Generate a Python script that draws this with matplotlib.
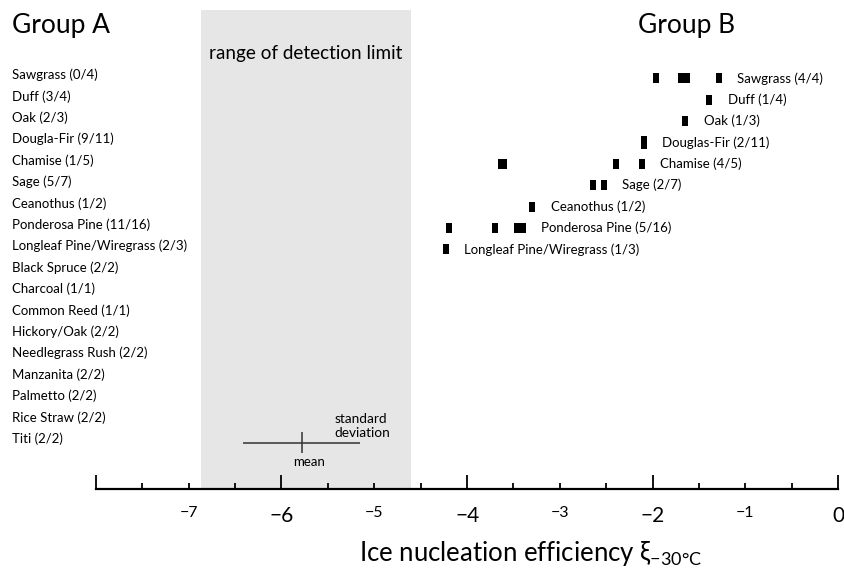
import matplotlib
matplotlib.use("Agg")
import matplotlib.pyplot as plt
import matplotlib.transforms as mtransforms

plt.rcParams["font.family"] = ["Lato", "DejaVu Sans"]

# Group A: below detection limit, text only
group_a = ["Sawgrass (0/4)", "Duff (3/4)", "Oak (2/3)", "Dougla-Fir (9/11)",
           "Chamise (1/5)", "Sage (5/7)", "Ceanothus (1/2)",
           "Ponderosa Pine (11/16)", "Longleaf Pine/Wiregrass (2/3)",
           "Black Spruce (2/2)", "Charcoal (1/1)", "Common Reed (1/1)",
           "Hickory/Oak (2/2)", "Needlegrass Rush (2/2)", "Manzanita (2/2)",
           "Palmetto (2/2)", "Rice Straw (2/2)", "Titi (2/2)"]

# Group B: measured values of xi_-30C
group_b = ["Sawgrass (4/4)", "Duff (1/4)", "Oak (1/3)", "Douglas-Fir (2/11)",
           "Chamise (4/5)", "Sage (2/7)", "Ceanothus (1/2)",
           "Ponderosa Pine (5/16)", "Longleaf Pine/Wiregrass (1/3)"]
b_values = [
    [-1.96, -1.695, -1.63, -1.29],
    [-1.393],
    [-1.649],
    [-2.095, -2.095],
    [-3.64, -3.60, -2.395, -2.12],
    [-2.64, -2.53],
    [-3.30],
    [-4.19, -3.70, -3.46, -3.43, -3.40],
    [-4.23],
]

detect_lo, detect_hi = -6.87, -4.60
sd_mean, sd_std = -5.78, 0.63

fig = plt.figure(figsize=(8.45, 5.74), dpi=100)
ax = fig.add_axes([95.9 / 845, 1 - 489 / 574, (838.3 - 95.9) / 845, 479 / 574])
ax.set_xlim(-8, 0)
ax.set_ylim(19.35, -3.04)

# detection limit band
ax.axvspan(detect_lo, detect_hi, color="#e6e6e6", lw=0, zorder=0)
ax.text((detect_lo + detect_hi) / 2, -1.0, "range of detection limit",
        ha="center", va="center", fontsize=13.6)

rect = [(-0.3, -0.5), (0.3, -0.5), (0.3, 0.5), (-0.3, 0.5)]
b_shift = 0.15
for i, (name, vals) in enumerate(zip(group_b, b_values)):
    y = i + b_shift
    seen = {}
    for v in vals:
        k = seen.get(v, 0)
        seen[v] = k + 1
        dy = 0 if vals.count(v) == 1 else (k - 0.5) * 0.14
        ax.plot(v, y + dy, marker=rect, ms=6.8, color="black", mew=0, ls="none")
    ax.annotate(name, (max(vals), y), xytext=(13.3, 0), textcoords="offset points",
                ha="left", va="center", fontsize=9.5)

# group A labels on the left
trans = mtransforms.blended_transform_factory(fig.transFigure, ax.transData)
for i, name in enumerate(group_a):
    ax.text(12 / 845, i, name, transform=trans, ha="left", va="center",
            fontsize=9.5, clip_on=False)

fig.text(12 / 845, 1 - 26 / 574, "Group A", fontsize=19, va="center", ha="left")
fig.text(638 / 845, 1 - 26 / 574, "Group B", fontsize=19, va="center", ha="left")

# standard deviation legend
y_sd = 17.2
ax.hlines(y_sd, sd_mean - sd_std, sd_mean + sd_std, color="#333333", lw=1.1)
ax.vlines(sd_mean, y_sd - 0.5, y_sd + 0.45, color="#333333", lw=1.1)
ax.text(-5.43, 16.42, "standard\ndeviation", fontsize=9.8, ha="left", va="center",
        linespacing=1.2)
ax.text(-5.70, 18.08, "mean", fontsize=9.5, ha="center", va="center")

# axis styling
for s in ["top", "right", "left"]:
    ax.spines[s].set_visible(False)
ax.spines["bottom"].set_linewidth(1.6)
ax.set_yticks([])
ax.set_xticks(range(-8, 1))
ax.set_xticks([x / 2 for x in range(-15, 0, 2)], minor=True)
ax.tick_params(axis="x", which="both", direction="in", width=1.3, pad=12)
ax.tick_params(axis="x", which="minor", length=4)
labels = []
for t in range(-8, 1):
    labels.append("" if t == -8 else "\u2212" + str(-t) if t < 0 else "0")
ax.set_xticklabels(labels)
for t, tick, lab in zip(range(-8, 1), ax.xaxis.get_major_ticks(), ax.get_xticklabels()):
    tick.tick1line.set_markersize(10 if t % 2 == 0 else 4)
    lab.set_fontsize(15 if t % 2 == 0 else 11.5)

fig.text(531 / 845, 1 - 553 / 574,
         "Ice nucleation efficiency \u03be$_{\\mathregular{-30\u00b0C}}$",
         ha="center", va="center", fontsize=18.5)

fig.savefig("out.png", dpi=100)
